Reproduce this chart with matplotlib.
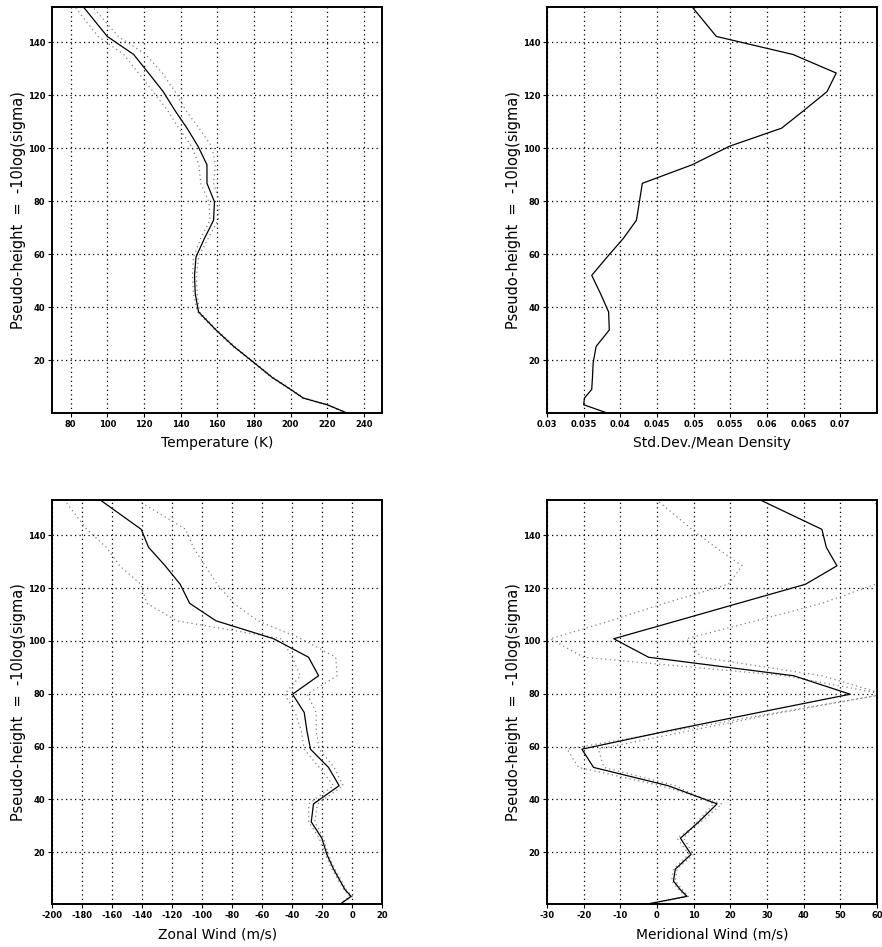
import matplotlib
matplotlib.use("Agg")
import matplotlib.pyplot as plt
import numpy as np

# ---------------- data ----------------
levels = [0.3, 3.3, 5.8, 9.1, 13.6, 19.2, 25.3, 31.5, 38.3, 45.2, 52.1, 59.0, 66.0,
          72.9, 79.8, 86.8, 93.8, 100.8, 107.6, 114.2, 121.4, 128.4, 135.4, 142.2, 153.3]

temp_mean = [230.4, 220, 207, 200, 190, 180, 169, 159.3, 149.8, 148, 147.6, 148.4, 153,
             158, 158.5, 154.4, 154.4, 149.5, 143.5, 137, 130.5, 122.5, 114.4, 100, 87]
temp_lo = [230, 219.5, 206.5, 199.5, 189.5, 179.5, 168.5, 158.8, 149.2, 147, 146.5, 147, 151,
           156, 155.5, 151, 150, 146, 139, 133, 125, 117, 109, 95, 82.4]
temp_hi = [230.8, 220.5, 207.5, 200.5, 190.5, 180.5, 169.5, 159.8, 150.4, 149, 148.7, 149.8, 155,
           160.5, 161.4, 158, 159, 157, 150, 143, 137, 130, 121, 106, 92]

std_density = [0.0381, 0.0350, 0.0351, 0.0361, 0.0362, 0.0363, 0.0367, 0.0385, 0.0384, 0.0373,
               0.0361, 0.0382, 0.0404, 0.0422, 0.0426, 0.0430, 0.0498, 0.0549, 0.0620, 0.0650,
               0.0682, 0.06945, 0.06355, 0.0531, 0.0498]

zonal_mean = [-8.2, -0.7, -4.7, -8, -12.4, -16.9, -20.2, -27.3, -25.8, -8.7, -15.8, -27.8, -30.2,
              -32, -39.8, -22.4, -29.1, -52.4, -90.9, -108.4, -114.7, -124.7, -135.8, -140.7, -168]
zonal_lo = [-8.5, -1.5, -5.5, -9, -13.5, -18, -22, -29, -29, -12.4, -22, -32, -34,
            -38, -45, -34.6, -40, -47, -117, -137, -141, -155, -164, -177, -192]
zonal_hi = [-8, 0, -4, -7, -11.5, -16, -19, -25, -23, -6, -12, -22, -24,
            -24, -30, -10, -11, -34, -63, -79, -90, -98, -106, -111, -143.6]

merid_mean = [-3, 8.2, 6.4, 4.5, 5, 9.3, 6.4, 11.4, 16.4, 3, -17.3, -20.5, 3.2,
              27.8, 52.7, 37.3, -2.3, -11.8, 5.5, 22.2, 40.5, 49.1, 46.2, 45, 28.2]
merid_a = [-3, 7.8, 6, 4, 4.5, 8.7, 5.5, 12, 17.7, 1, -21.4, -24.5, 4.6,
           33, 62, 35, -20, -29.1, -12.7, 2, 19.5, 23.2, 16, 9.5, 0]
merid_b = [-2.5, 8.6, 7, 5, 5.5, 10, 7.3, 11, 15.5, 5, -14.5, -16, 9,
           34, 62, 45, 12, 8, 27, 45, 59.5, 72, 70, 68, 58.5]

yticks = [20, 40, 60, 80, 100, 120, 140]
temp_ticks = [80, 100, 120, 140, 160, 180, 200, 220, 240]
std_ticks = [0.03, 0.035, 0.04, 0.045, 0.05, 0.055, 0.06, 0.065, 0.07]
std_ticklabels = ["0.03", "0.035", "0.04", "0.045", "0.05", "0.055", "0.06", "0.065", "0.07"]
zonal_ticks = [-200, -180, -160, -140, -120, -100, -80, -60, -40, -20, 0, 20]
merid_ticks = [-30, -20, -10, 0, 10, 20, 30, 40, 50, 60]

ylabel = "Pseudo-height  =  -10log(sigma)"

# ---------------- styling ----------------
plt.rcParams['font.family'] = ['DejaVu Sans']
plt.rcParams['axes.unicode_minus'] = False

fig = plt.figure(figsize=(8.82, 9.47), dpi=100)

W = 0.3740
H_top = 0.4284
H_bot = 0.4269
ax_tl = fig.add_axes([0.0593, 0.5642, W, H_top])
ax_tr = fig.add_axes([0.6202, 0.5642, W, H_top])
ax_bl = fig.add_axes([0.0593, 0.0451, W, H_bot])
ax_br = fig.add_axes([0.6202, 0.0451, W, H_bot])

grid_ls = (0, (1.0, 2.6))
dot_ls = (0, (1.0, 2.6))
dot_col = '0.5'


def style(ax, xlim, xticks, xlabel, xticklabels=None):
    ax.set_xlim(*xlim)
    ax.set_ylim(levels[0], levels[-1])
    ax.set_xticks(xticks)
    if xticklabels is not None:
        ax.set_xticklabels(xticklabels)
    ax.set_yticks(yticks)
    ax.grid(True, color='black', linestyle=grid_ls, linewidth=0.9)
    ax.set_axisbelow(True)
    for s in ax.spines.values():
        s.set_linewidth(1.4)
        s.set_color('black')
    ax.tick_params(axis='both', direction='out', length=3, width=0.8,
                   labelsize=6, pad=2)
    for lab in ax.get_xticklabels() + ax.get_yticklabels():
        lab.set_fontweight('bold')
    ax.set_xlabel(xlabel, fontsize=10, labelpad=5)
    ax.set_ylabel(ylabel, fontsize=10.5, labelpad=1)


# Temperature
ax_tl.plot(temp_lo, levels, color=dot_col, linestyle=dot_ls, linewidth=0.9)
ax_tl.plot(temp_hi, levels, color=dot_col, linestyle=dot_ls, linewidth=0.9)
ax_tl.plot(temp_mean, levels, color='black', linewidth=0.9)
style(ax_tl, (70, 250), temp_ticks, "Temperature (K)")

# Std dev / mean density
ax_tr.plot(std_density, levels, color='black', linewidth=0.9)
style(ax_tr, (0.03, 0.075), std_ticks, "Std.Dev./Mean Density", std_ticklabels)

# Zonal wind
ax_bl.plot(zonal_lo, levels, color=dot_col, linestyle=dot_ls, linewidth=0.9)
ax_bl.plot(zonal_hi, levels, color=dot_col, linestyle=dot_ls, linewidth=0.9)
ax_bl.plot(zonal_mean, levels, color='black', linewidth=0.9)
style(ax_bl, (-200, 20), zonal_ticks, "Zonal Wind (m/s)")

# Meridional wind
ax_br.plot(merid_a, levels, color=dot_col, linestyle=dot_ls, linewidth=0.9)
ax_br.plot(merid_b, levels, color=dot_col, linestyle=dot_ls, linewidth=0.9)
ax_br.plot(merid_mean, levels, color='black', linewidth=0.9)
style(ax_br, (-30, 60), merid_ticks, "Meridional Wind (m/s)")

fig.savefig("out.png", dpi=100)
